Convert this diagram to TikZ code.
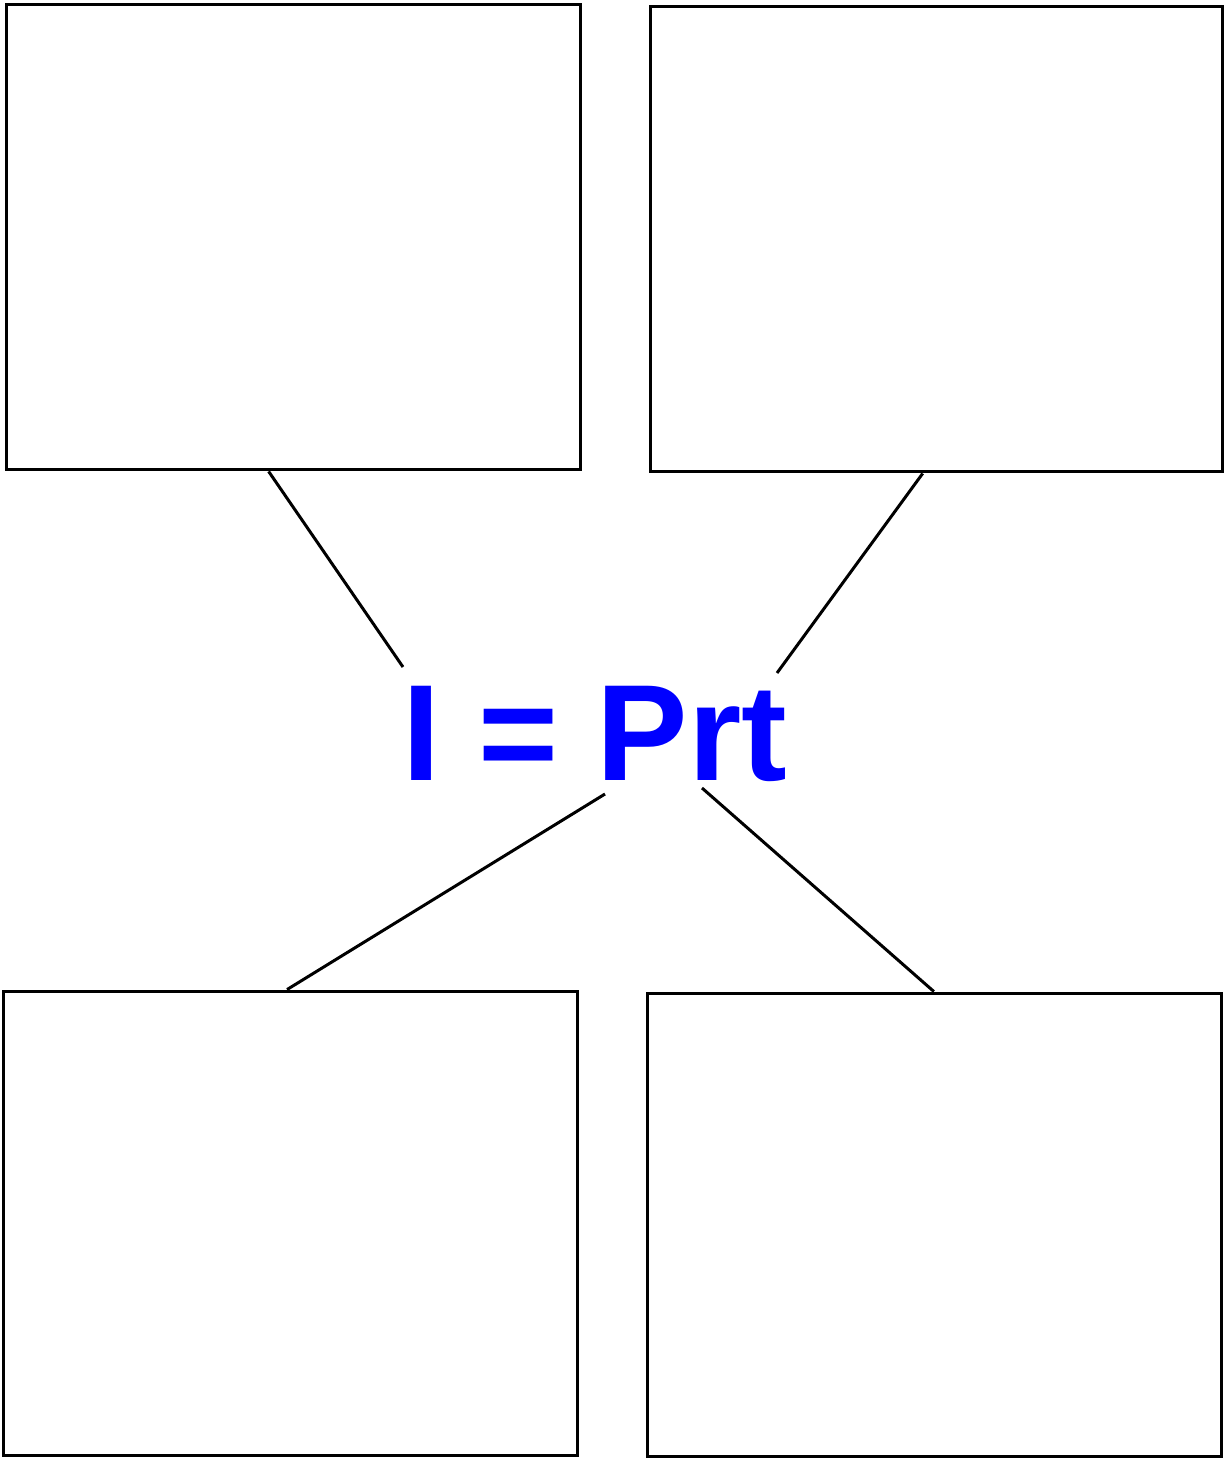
\documentclass[tikz,border=0pt]{standalone}
\usepackage{fontspec}
\setmainfont{Liberation Sans}
\usetikzlibrary{calc}
\begin{document}
\begin{tikzpicture}[x=0.02cm,y=-0.02cm,
  box/.style={draw=black,line width=1.7pt,rectangle,inner sep=0pt,minimum width=11.5cm,minimum height=9.32cm},
  link/.style={draw=black,line width=1.7pt},
  formula/.style={text=blue,font=\fontsize{78}{80}\selectfont\bfseries,inner sep=0pt,anchor=base}]
\useasboundingbox (0,0) rectangle (1225,1458);
\node[box,minimum width=11.5cm,minimum height=9.32cm] (tlbox) at (293.5,237) {};
\node[box,minimum width=11.46cm,minimum height=9.32cm] (trbox) at (936.5,239) {};
\node[box,minimum width=11.5cm,minimum height=9.3cm] (blbox) at (290.5,1223.5) {};
\node[box,minimum width=11.5cm,minimum height=9.28cm] (brbox) at (934.5,1225) {};
\node[formula] (f) at (595,780) {I = Prt};
\coordinate (tl) at ($(tlbox.south west)!0.457!(tlbox.south east)$);
\coordinate (tr) at ($(trbox.south west)!0.476!(trbox.south east)$);
\coordinate (bl) at ($(blbox.north west)!0.494!(blbox.north east)$);
\coordinate (br) at ($(brbox.north west)!0.499!(brbox.north east)$);
\coordinate (ftl) at (403,667);
\coordinate (ftr) at (777,673);
\coordinate (fbl) at (605,794);
\coordinate (fbr) at (702,788);
\draw[link] (tl) -- (ftl);
\draw[link] (tr) -- (ftr);
\draw[link] (bl) -- (fbl);
\draw[link] (br) -- (fbr);
\end{tikzpicture}
\end{document}
